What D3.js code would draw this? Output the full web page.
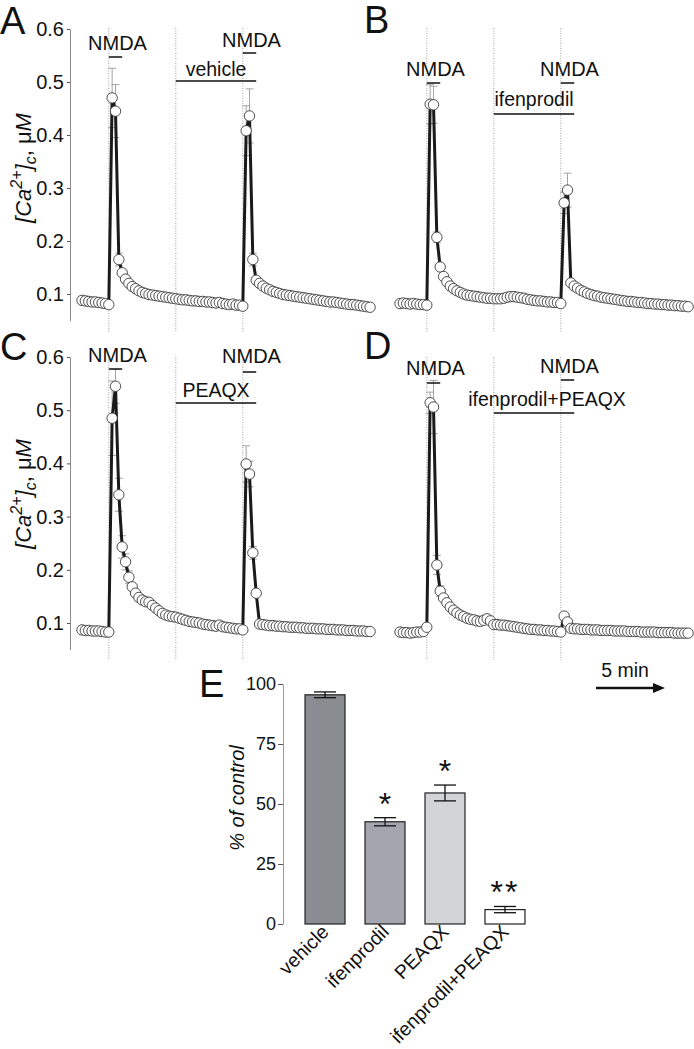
<!DOCTYPE html>
<html>
<head>
<meta charset="utf-8">
<script src="https://cdn.jsdelivr.net/npm/d3@7"></script>
<style>
    body { margin: 0; background: #fff; }
    svg { display: block; font-family: "Liberation Sans", Arial, Helvetica, sans-serif; }
</style>
</head>
<body>
<div id="chart"></div>
<script>
// [Ca2+]c traces (uM), one sample every 15 s, first NMDA pulse at sample 8
var caA = [0.088, 0.087, 0.086, 0.085, 0.085, 0.084, 0.083, 0.082, 0.080,
    0.470, 0.445, 0.165, 0.140, 0.128, 0.120,
    0.114, 0.110, 0.106, 0.103, 0.101, 0.099, 0.098, 0.097, 0.096, 0.095, 0.094, 0.093, 0.092, 0.091,
    0.090, 0.089, 0.089, 0.088, 0.087, 0.087, 0.086, 0.086, 0.085, 0.085, 0.084, 0.083, 0.084, 0.082, 0.081, 0.080, 0.081, 0.079, 0.079, 0.077,
    0.408, 0.436, 0.165,
    0.126, 0.120, 0.115, 0.111, 0.108, 0.105, 0.103, 0.101, 0.099, 0.098,
    0.097, 0.096, 0.095, 0.094, 0.093, 0.092, 0.091, 0.090, 0.089, 0.088,
    0.087, 0.086, 0.085, 0.085, 0.084, 0.083, 0.082, 0.081, 0.080, 0.080,
    0.079, 0.078, 0.077, 0.076, 0.075];
var caB = [0.082, 0.083, 0.082, 0.081, 0.082, 0.081, 0.080, 0.080, 0.079,
    0.458, 0.457, 0.207, 0.151, 0.133, 0.123,
    0.115, 0.110, 0.106, 0.103, 0.100, 0.098, 0.097, 0.096, 0.095, 0.094, 0.093, 0.092, 0.092, 0.091,
    0.091, 0.091, 0.092, 0.094, 0.095, 0.095, 0.094, 0.093, 0.092, 0.090, 0.089, 0.088, 0.087, 0.087, 0.086, 0.085, 0.085, 0.084, 0.084, 0.082,
    0.272, 0.296, 0.121,
    0.115, 0.111, 0.107, 0.104, 0.101, 0.099, 0.097, 0.096, 0.094, 0.093,
    0.092, 0.091, 0.090, 0.089, 0.088, 0.087, 0.086, 0.086, 0.085, 0.084,
    0.084, 0.083, 0.082, 0.082, 0.081, 0.081, 0.080, 0.080, 0.079, 0.079,
    0.078, 0.078, 0.077, 0.077, 0.076];
var caC = [0.087, 0.086, 0.086, 0.085, 0.085, 0.085, 0.084, 0.083, 0.083,
    0.485, 0.545, 0.341, 0.243, 0.215, 0.186, 0.168, 0.156,
    0.148, 0.143, 0.140, 0.139, 0.133, 0.128, 0.123, 0.118, 0.115, 0.113, 0.112, 0.111,
    0.109, 0.107, 0.105, 0.103, 0.102, 0.101, 0.100, 0.098, 0.097, 0.096, 0.095, 0.094, 0.096, 0.093, 0.092, 0.091, 0.090, 0.089, 0.089, 0.087,
    0.399, 0.380, 0.232, 0.156, 0.098,
    0.097, 0.096, 0.095, 0.095, 0.094, 0.094, 0.093, 0.093, 0.092, 0.092,
    0.092, 0.091, 0.091, 0.090, 0.090, 0.090, 0.089, 0.089, 0.089, 0.088,
    0.088, 0.088, 0.087, 0.087, 0.087, 0.086, 0.086, 0.086, 0.085, 0.085,
    0.085, 0.084, 0.084];
var caD = [0.083, 0.082, 0.082, 0.081, 0.082, 0.083, 0.083, 0.084, 0.092,
    0.514, 0.506, 0.209, 0.160, 0.147, 0.138,
    0.130, 0.124, 0.119, 0.115, 0.112, 0.109, 0.107, 0.106, 0.104, 0.103, 0.105, 0.108, 0.104, 0.097,
    0.097, 0.096, 0.096, 0.095, 0.094, 0.093, 0.092, 0.091, 0.090, 0.089, 0.088, 0.088, 0.087, 0.087, 0.086, 0.086, 0.085, 0.085, 0.084, 0.083,
    0.113, 0.102, 0.090,
    0.089, 0.089, 0.088, 0.088, 0.088, 0.087, 0.087, 0.087, 0.086, 0.086,
    0.086, 0.086, 0.085, 0.085, 0.085, 0.085, 0.084, 0.084, 0.084, 0.084,
    0.083, 0.083, 0.083, 0.083, 0.083, 0.082, 0.082, 0.082, 0.082, 0.082,
    0.081, 0.081, 0.081, 0.081, 0.081];

// SEM where it shows: [sample index, sem]
var semA = [[9, 0.056], [10, 0.050], [11, 0.012], [49, 0.047], [50, 0.051], [51, 0.012]];
var semB = [[9, 0.037], [10, 0.035], [11, 0.010], [49, 0.020], [50, 0.032]];
var semC = [[9, 0.070], [10, 0.032], [11, 0.031], [12, 0.021], [13, 0.015], [14, 0.012], [49, 0.034], [50, 0.024], [51, 0.012]];
var semD = [[9, 0.020], [10, 0.050], [11, 0.018], [12, 0.010]];

// timing (min)
var sampleMin = 0.25;
var nmdaOn = [2, 12];
var nmdaDur = 1;
var drugOn = 7, drugOff = 13;
var traceTicks = [0.1, 0.2, 0.3, 0.4, 0.5, 0.6];

// panel E
var groups = ["vehicle", "ifenprodil", "PEAQX", "ifenprodil+PEAQX"];
var pctControl = [95.5, 42.6, 54.6, 6.0];
var pctSem = [1.2, 1.7, 3.3, 1.3];
var signif = ["", "*", "*", "**"];
var barTicks = [0, 25, 50, 75, 100];
var barColors = ["#898c90", "#a3a6ae", "#d3d4d8", "#ffffff"];

var pxPerMin = 13.4;
var rows = [
    {y01: 294, y06: 29, top: 28, bottom: 333},
    {y01: 623, y06: 357, top: 357, bottom: 660}
];
var panels = [
    {letter: "A", lx: 0, ly: 34, data: caA, sem: semA, drug: "vehicle", x0: 82, row: 0, yAxis: true, labY: 168,
        nmdaY: [[50, 57], [47, 53]], drugY: [76, 81], drugDx: 0},
    {letter: "B", lx: 364, ly: 33, data: caB, sem: semB, drug: "ifenprodil", x0: 400, row: 0, yAxis: false,
        nmdaY: [[76, 83], [76, 83]], drugY: [106, 114], drugDx: 0},
    {letter: "C", lx: 0, ly: 360, data: caC, sem: semC, drug: "PEAQX", x0: 82, row: 1, yAxis: true, labY: 494,
        nmdaY: [[362, 369], [363, 372]], drugY: [397, 403], drugDx: 0},
    {letter: "D", lx: 364, ly: 359, data: caD, sem: semD, drug: "ifenprodil+PEAQX", x0: 400, row: 1, yAxis: false,
        nmdaY: [[375, 383], [373, 380]], drugY: [406, 413], drugDx: 13}
];

var svg = d3.select("#chart").append("svg")
    .attr("width", 694)
    .attr("height", 1049);

svg.append("rect").attr("width", 694).attr("height", 1049).attr("fill", "#fff");

panels.forEach(function (p) {
    var r = rows[p.row];
    var x = d3.scaleLinear()
        .domain([0, 21.5])
        .range([p.x0, p.x0 + 21.5 * pxPerMin]);
    var y = d3.scaleLinear()
        .domain([0.05, 0.6])
        .range([r.y01 + (r.y01 - r.y06) / 10, r.y06]);
    var g = svg.append("g");

    // dotted markers: NMDA pulses and drug onset
    g.selectAll(".mark")
        .data([nmdaOn[0], drugOn, nmdaOn[1]])
        .enter().append("line")
        .attr("x1", function (d) { return x(d); })
        .attr("x2", function (d) { return x(d); })
        .attr("y1", r.top)
        .attr("y2", r.bottom)
        .attr("stroke", "#8a8a8a")
        .attr("stroke-width", 0.8)
        .attr("stroke-dasharray", "1,1.5");

    if (p.yAxis) {
        var ax = g.append("g")
            .attr("transform", "translate(" + (p.x0 - 12) + ",0)")
            .call(d3.axisLeft(y).tickValues(traceTicks).tickSize(3).tickSizeOuter(0).tickPadding(3)
                .tickFormat(d3.format(".1f")));
        ax.select(".domain").attr("stroke", "#8a8a8a");
        ax.selectAll(".tick line").attr("stroke", "#555");
        ax.selectAll("text").attr("font-size", 20).attr("fill", "#111")
            .attr("font-family", "Liberation Sans, Arial, sans-serif");

        var lab = g.append("text")
            .attr("transform", "translate(31," + p.labY + ") rotate(-90)")
            .attr("text-anchor", "middle")
            .attr("font-size", 22)
            .attr("fill", "#111");
        lab.append("tspan").attr("font-style", "italic").text("[Ca");
        lab.append("tspan").attr("font-style", "italic").attr("font-size", 16).attr("dy", -9).text("2+");
        lab.append("tspan").attr("font-style", "italic").attr("dy", 9).text("]");
        lab.append("tspan").attr("font-style", "italic").attr("font-size", 16).attr("dy", 5).text("c");
        lab.append("tspan").attr("dy", -5).text(", \u03bc");
        lab.append("tspan").attr("font-style", "italic").text("M");
    }

    // error bars
    var eb = g.selectAll(".err")
        .data(p.sem)
        .enter().append("g")
        .attr("stroke", "#9a9a9a")
        .attr("stroke-width", 0.9);
    eb.append("line")
        .attr("x1", function (d) { return x(d[0] * sampleMin); })
        .attr("x2", function (d) { return x(d[0] * sampleMin); })
        .attr("y1", function (d) { return y(p.data[d[0]] - d[1]); })
        .attr("y2", function (d) { return y(p.data[d[0]] + d[1]); });
    [-1, 1].forEach(function (sgn) {
        eb.append("line")
            .attr("x1", function (d) { return x(d[0] * sampleMin) - 4; })
            .attr("x2", function (d) { return x(d[0] * sampleMin) + 4; })
            .attr("y1", function (d) { return y(p.data[d[0]] + sgn * d[1]); })
            .attr("y2", function (d) { return y(p.data[d[0]] + sgn * d[1]); });
    });

    // trace
    var line = d3.line()
        .x(function (d, i) { return x(i * sampleMin); })
        .y(function (d) { return y(d); });
    g.append("path")
        .datum(p.data)
        .attr("d", line)
        .attr("fill", "none")
        .attr("stroke", "#1a1a1a")
        .attr("stroke-width", 3)
        .attr("stroke-linejoin", "round");

    g.selectAll(".pt")
        .data(p.data)
        .enter().append("circle")
        .attr("cx", function (d, i) { return x(i * sampleMin); })
        .attr("cy", function (d) { return y(d); })
        .attr("r", 5.2)
        .attr("fill", "#fff")
        .attr("stroke", "#3a3a3a")
        .attr("stroke-width", 0.9);

    // NMDA pulses
    nmdaOn.forEach(function (t, k) {
        g.append("line")
            .attr("x1", x(t)).attr("x2", x(t + nmdaDur))
            .attr("y1", p.nmdaY[k][1]).attr("y2", p.nmdaY[k][1])
            .attr("stroke", "#111").attr("stroke-width", 1.5);
        g.append("text")
            .attr("x", x(t + nmdaDur / 2) + 2)
            .attr("y", p.nmdaY[k][0])
            .attr("text-anchor", "middle")
            .attr("font-size", 20)
            .attr("fill", "#111")
            .text("NMDA");
    });

    // drug application
    g.append("line")
        .attr("x1", x(drugOn)).attr("x2", x(drugOff))
        .attr("y1", p.drugY[1]).attr("y2", p.drugY[1])
        .attr("stroke", "#111").attr("stroke-width", 1.5);
    g.append("text")
        .attr("x", x((drugOn + drugOff) / 2) + p.drugDx)
        .attr("y", p.drugY[0])
        .attr("text-anchor", "middle")
        .attr("font-size", 19.5)
        .attr("fill", "#111")
        .text(p.drug);

    svg.append("text")
        .attr("x", p.lx).attr("y", p.ly)
        .attr("font-size", 38)
        .attr("fill", "#111")
        .text(p.letter);

    // 5 min scale bar under panel D
    if (p.letter === "D") {
        var sx = 596, sy = 688, len = x(5) - x(0);
        svg.append("line")
            .attr("x1", sx).attr("x2", sx + len - 6)
            .attr("y1", sy).attr("y2", sy)
            .attr("stroke", "#111").attr("stroke-width", 2.5);
        svg.append("path")
            .attr("d", "M" + (sx + len + 2) + "," + sy + " l-12,-5 l0,10 z")
            .attr("fill", "#111");
        svg.append("text")
            .attr("x", sx + 29).attr("y", 677)
            .attr("text-anchor", "middle")
            .attr("font-size", 19.5)
            .attr("fill", "#111")
            .text("5 min");
    }
});

// panel E: % of control bar chart
var yE = d3.scaleLinear()
    .domain([0, 100])
    .range([924, 684]);
var xE = d3.scaleBand()
    .domain(groups)
    .range([283, 547])
    .paddingInner(1 / 3)
    .paddingOuter(0.367);

var gE = svg.append("g");

var axE = gE.append("g")
    .attr("transform", "translate(283,0)")
    .call(d3.axisLeft(yE).tickValues(barTicks).tickSize(5).tickSizeOuter(0).tickPadding(2));
axE.select(".domain").attr("stroke", "#9a9a9a");
axE.selectAll(".tick line").attr("stroke", "#555");
axE.selectAll("text").attr("font-size", 18).attr("fill", "#111")
    .attr("font-family", "Liberation Sans, Arial, sans-serif");

gE.selectAll(".bar")
    .data(groups)
    .enter().append("rect")
    .attr("x", function (d) { return xE(d); })
    .attr("y", function (d, i) { return yE(pctControl[i]); })
    .attr("width", xE.bandwidth())
    .attr("height", function (d, i) { return yE(0) - yE(pctControl[i]); })
    .attr("fill", function (d, i) { return barColors[i]; })
    .attr("stroke", "#222")
    .attr("stroke-width", 1.2);

groups.forEach(function (d, i) {
    var cx = xE(d) + xE.bandwidth() / 2;
    var hi = yE(pctControl[i] + pctSem[i]), lo = yE(pctControl[i] - pctSem[i]);
    gE.append("line").attr("x1", cx).attr("x2", cx).attr("y1", lo).attr("y2", hi)
        .attr("stroke", "#111").attr("stroke-width", 1.3);
    [hi, lo].forEach(function (yy) {
        gE.append("line").attr("x1", cx - 11).attr("x2", cx + 11).attr("y1", yy).attr("y2", yy)
            .attr("stroke", "#111").attr("stroke-width", 1.3);
    });
    if (signif[i]) {
        gE.append("text")
            .attr("x", cx)
            .attr("y", hi - 3)
            .attr("text-anchor", "middle")
            .attr("font-size", 32)
            .attr("letter-spacing", signif[i].length > 1 ? 2 : 0)
            .attr("fill", "#111")
            .text(signif[i]);
    }
    gE.append("text")
        .attr("transform", "translate(" + (cx + 5) + ",933) rotate(-45)")
        .attr("text-anchor", "end")
        .attr("font-size", 19.5)
        .attr("fill", "#111")
        .text(d);
});

gE.append("text")
    .attr("transform", "translate(244,798) rotate(-90)")
    .attr("text-anchor", "middle")
    .attr("font-size", 20)
    .attr("font-style", "italic")
    .attr("fill", "#111")
    .text("% of control");

svg.append("text")
    .attr("x", 199).attr("y", 697)
    .attr("font-size", 38)
    .attr("fill", "#111")
    .text("E");
</script>
</body>
</html>
